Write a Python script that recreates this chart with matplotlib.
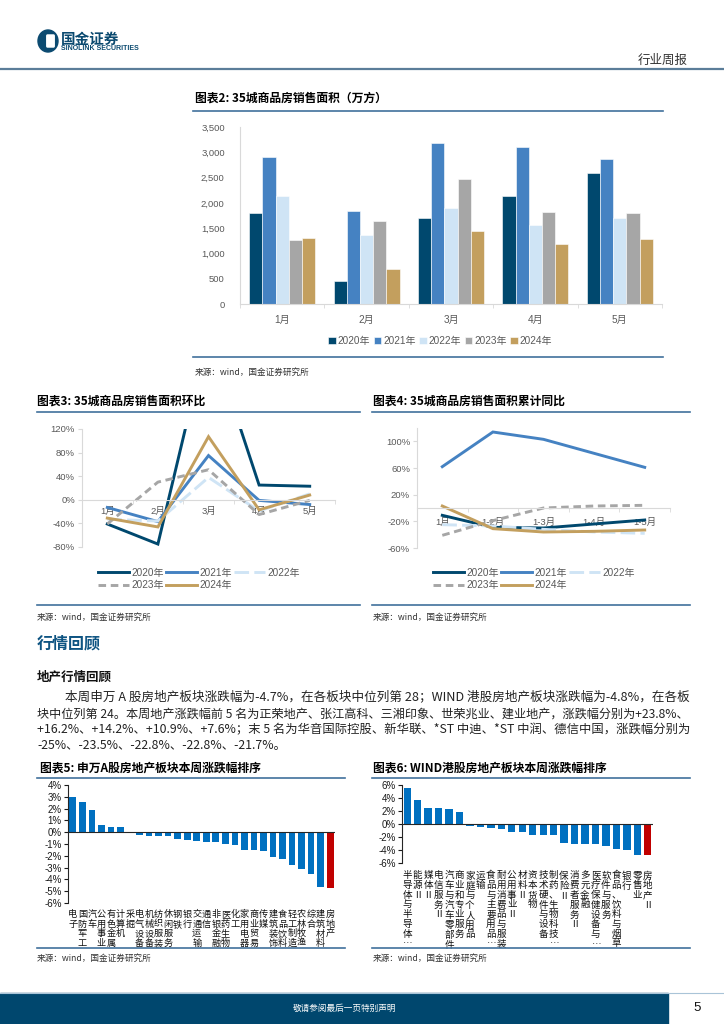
import matplotlib
matplotlib.use('Agg')
import matplotlib.pyplot as plt
from matplotlib.lines import Line2D
from matplotlib.patches import Rectangle, Ellipse, FancyBboxPatch
from matplotlib.ticker import FuncFormatter

plt.rcParams['font.family'] = ['Liberation Sans', 'Noto Sans CJK SC', 'DejaVu Sans']
plt.rcParams['axes.unicode_minus'] = False
CJK = ['Noto Sans CJK SC', 'DejaVu Sans']

# ---------------- data ----------------
months = ['1月', '2月', '3月', '4月', '5月']
years = ['2020年', '2021年', '2022年', '2023年', '2024年']
area_2020 = [1790, 450, 1710, 2130, 2600]
area_2021 = [2900, 1840, 3190, 3110, 2870]
area_2022 = [2130, 1370, 1890, 1570, 1710]
area_2023 = [1260, 1640, 2470, 1810, 1790]
area_2024 = [1300, 700, 1440, 1190, 1280]

mom_2020 = [-41, -75, 285, 25, 23]
mom_2021 = [-13, -37, 75, -1, -8]
mom_2022 = [-33, -36, 38, -19, 10]
mom_2023 = [-41, 30, 51, -25, -1]
mom_2024 = [-31, -46, 107, -17, 8]

cum_labels = ['1月', '1-2月', '1-3月', '1-4月', '1-5月']
yoy_2020 = [-11, -29, -30, -24, -18]
yoy_2021 = [62, 114, 103, 82, 61]
yoy_2022 = [-25, -27, -32, -36, -38]
yoy_2023 = [-41, -19, 0, 3, 4]
yoy_2024 = [3, -31, -36, -35, -33]

sw_names = ['电子', '国防军工', '汽车', '公用事业', '有色金属', '计算机', '采掘', '电气设备',
            '机械设备', '纺织服装', '休闲服务', '钢铁', '银行', '交通运输', '通信', '非银金融',
            '医药生物', '化工', '家用电器', '商业贸易', '传媒', '建筑装饰', '食品饮料', '轻工制造',
            '农林牧渔', '综合', '建筑材料', '房地产']
sw_values = [2.95, 2.55, 1.87, 0.6, 0.45, 0.45, 0.03, -0.2, -0.3, -0.3, -0.3, -0.57, -0.68,
             -0.77, -0.85, -0.85, -1.0, -1.08, -1.53, -1.53, -1.6, -2.1, -2.27, -2.8, -3.1,
             -3.58, -4.65, -4.7]

hk_names = ['半导体与半导体…', '能源Ⅱ', '媒体Ⅱ', '电信服务Ⅱ', '汽车与汽车零部件', '商业和专业服务',
            '家庭与个人用品', '运输', '食品与主要用品…', '耐用消费品与服装', '公用事业Ⅱ', '材料Ⅱ',
            '资本货物', '技术硬件与设备', '制药、生物科技…', '保险Ⅱ', '消费者服务Ⅱ', '多元金融',
            '医疗保健设备与…', '软件与服务', '食品、饮料与烟草', '银行', '零售业', '房地产Ⅱ']
hk_values = [5.6, 3.75, 2.45, 2.45, 2.3, 1.85, -0.25, -0.5, -0.65, -0.75, -1.2, -1.2, -1.7,
             -1.7, -1.75, -2.85, -3.0, -3.0, -3.15, -3.4, -3.85, -4.0, -4.8, -4.8]

paragraph = [
    '本周申万 A 股房地产板块涨跌幅为-4.7%，在各板块中位列第 28；WIND 港股房地产板块涨跌幅为-4.8%，在各板',
    '块中位列第 24。本周地产涨跌幅前 5 名为正荣地产、张江高科、三湘印象、世荣兆业、建业地产，涨跌幅分别为+23.8%、',
    '+16.2%、+14.2%、+10.9%、+7.6%；末 5 名为华音国际控股、新华联、*ST 中迪、*ST 中润、德信中国，涨跌幅分别为',
    '-25%、-23.5%、-22.8%、-22.8%、-21.7%。',
]

# ---------------- styles ----------------
C2020 = '#00486e'
C2021 = '#4582c2'
C2022 = '#cfe4f5'
C2023 = '#a6a6a6'
C2024 = '#c39f5e'
BAR_BLUE = '#0070c0'
BAR_RED = '#c00000'
RULE = '#41719c'
TICK_GRAY = '#595959'

W, H = 724, 1024
fig = plt.figure(figsize=(W / 100, H / 100), dpi=100)


def fx(x):
    return x / W


def fy(y):
    return 1 - y / H


def add_ax(x0, y0, x1, y1):
    return fig.add_axes([x0 / W, 1 - y1 / H, (x1 - x0) / W, (y1 - y0) / H])


def hline(x0, x1, y, color=RULE, lw=1.2):
    fig.add_artist(Line2D([fx(x0), fx(x1)], [fy(y), fy(y)], transform=fig.transFigure,
                          color=color, lw=lw))


def text(x, y, s, **kw):
    kw.setdefault('family', CJK)
    kw.setdefault('va', 'center')
    kw.setdefault('ha', 'left')
    return fig.text(fx(x), fy(y), s, **kw)


# ---------------- header ----------------
fig.add_artist(Ellipse((fx(48), fy(41)), 20 / W, 22 / H, transform=fig.transFigure,
                       color='#0b4a70'))
fig.add_artist(FancyBboxPatch((fx(47.5), fy(46)), 6 / W, 10 / H, transform=fig.transFigure,
                              boxstyle='round,pad=0.001', color='white'))
text(61, 39, '国金证券', fontsize=10.5, fontweight='bold', color='#0b4a70')
text(61, 49, 'SINOLINK SECURITIES', fontsize=5.0, fontweight='bold', color='#0b4a70',
     family=['Liberation Sans'])
text(638, 60, '行业周报', fontsize=9, color='#333333')
hline(0, 724, 68.5, color='#5b7d99', lw=1.6)

# ---------------- chart 2 ----------------
text(195, 98, '图表2: 35城商品房销售面积（万方）', fontsize=8.5, fontweight='bold')
hline(193, 663, 111)
ax2 = add_ax(240, 127, 662, 304)
area_series = [area_2020, area_2021, area_2022, area_2023, area_2024]
bar_colors = [C2020, C2021, C2022, C2023, C2024]
bw = 0.156
handles2 = []
for i, (vals, col) in enumerate(zip(area_series, bar_colors)):
    xs = [k + (i - 2) * bw for k in range(len(months))]
    b = ax2.bar(xs, vals, width=bw, color=col, edgecolor='white', linewidth=0.4, label=years[i])
    handles2.append(b)
ax2.set_xlim(-0.5, 4.5)
ax2.set_ylim(0, 3500)
ax2.set_yticks(range(0, 3501, 500))
ax2.yaxis.set_major_formatter(FuncFormatter(lambda v, p: f'{int(v):,}'))
ax2.set_xticks(range(5))
ax2.set_xticklabels(months)
ax2.set_xticks([k - 0.5 for k in range(6)], minor=True)
for s in ['top', 'right']:
    ax2.spines[s].set_visible(False)
for s in ['left', 'bottom']:
    ax2.spines[s].set_color('#d9d9d9')
ax2.tick_params(axis='y', length=0, labelsize=6.8, colors=TICK_GRAY, pad=11)
ax2.tick_params(axis='x', which='major', length=0, labelsize=7.2, colors=TICK_GRAY, pad=8)
ax2.tick_params(axis='x', which='minor', length=3, color='#d9d9d9')
fig.legend(handles2, years, loc='center', bbox_to_anchor=(fx(440), fy(341)), ncol=5,
           frameon=False, fontsize=7.2, handlelength=0.75, handleheight=0.75,
           handletextpad=0.2, columnspacing=0.35, labelcolor=TICK_GRAY)
hline(193, 663, 357)
text(195, 372, '来源：wind，国金证券研究所', fontsize=6.2, color='#333333')

# ---------------- charts 3 & 4 ----------------
styles = [
    dict(color=C2020, lw=2.1, ls='-'),
    dict(color=C2021, lw=2.1, ls='-'),
    dict(color=C2022, lw=2.1, ls=(0, (5, 1.8))),
    dict(color=C2023, lw=2.1, ls=(0, (2.6, 1.6))),
    dict(color=C2024, lw=2.1, ls='-'),
]


def line_chart(ax, cats, series, ylim, yticks, label_pad):
    hs = []
    for vals, st, yr in zip(series, styles, years):
        h, = ax.plot(range(len(cats)), vals, label=yr, solid_joinstyle='miter', **st)
        hs.append(h)
    ax.set_xlim(-0.5, len(cats) - 0.5)
    ax.set_ylim(*ylim)
    ax.set_yticks(yticks)
    ax.yaxis.set_major_formatter(FuncFormatter(lambda v, p: f'{int(v)}%'))
    ax.set_xticks(range(len(cats)))
    ax.set_xticklabels(cats)
    ax.set_xticks([k - 0.5 for k in range(len(cats) + 1)], minor=True)
    ax.spines['bottom'].set_position(('data', 0))
    for s in ['top', 'right']:
        ax.spines[s].set_visible(False)
    for s in ['left', 'bottom']:
        ax.spines[s].set_color('#d9d9d9')
    ax.tick_params(axis='y', length=3, color='#d9d9d9', labelsize=6.8, colors=TICK_GRAY, pad=2)
    ax.tick_params(axis='y', color='#d9d9d9')
    ax.tick_params(axis='x', which='major', length=0, labelsize=6.8, colors=TICK_GRAY,
                   pad=label_pad)
    ax.tick_params(axis='x', which='minor', length=3, color='#d9d9d9')
    return hs


text(37, 401, '图表3: 35城商品房销售面积环比', fontsize=8.5, fontweight='bold')
text(373, 401, '图表4: 35城商品房销售面积累计同比', fontsize=8.5, fontweight='bold')
hline(37, 360, 412)
hline(372, 690, 412)

ax3 = add_ax(82, 429, 335, 547)
h3 = line_chart(ax3, months, [mom_2020, mom_2021, mom_2022, mom_2023, mom_2024],
                (-80, 120), range(-80, 121, 40), 5)
ax4 = add_ax(417, 428, 670, 548)
h4 = line_chart(ax4, cum_labels, [yoy_2020, yoy_2021, yoy_2022, yoy_2023, yoy_2024],
                (-60, 120), [-60, -20, 20, 60, 100], 7)

order = [0, 3, 1, 4, 2]
for hs, cx in [(h3, 199), (h4, 534)]:
    fig.legend([hs[i] for i in order], [years[i] for i in order], loc='center',
               bbox_to_anchor=(fx(cx), fy(579)), ncol=3, frameon=False, fontsize=7.2,
               handlelength=3.1, handletextpad=0.3, columnspacing=0.15, labelspacing=0.25,
               labelcolor=TICK_GRAY)

hline(37, 360, 605)
hline(372, 690, 605)
text(37, 617, '来源：wind，国金证券研究所', fontsize=6.2, color='#333333')
text(373, 617, '来源：wind，国金证券研究所', fontsize=6.2, color='#333333')

# ---------------- text section ----------------
text(37, 643, '行情回顾', fontsize=11.5, fontweight='bold', color='#0e5482')
text(37, 677, '地产行情回顾', fontsize=9, fontweight='bold', color='#111111')
renderer = fig.canvas.get_renderer()
line_x = [65, 37, 37, 37]
line_y = [697, 714, 730, 746]
targets = [690 - 65, 690 - 37, 690 - 37, None]
last_fs = 8.8
for s, x, y, tw in zip(paragraph, line_x, line_y, targets):
    t = text(x, y, s, fontsize=last_fs, color='#222222')
    if tw is not None:
        w = t.get_window_extent(renderer).width
        fs = last_fs * tw / w
        fs = max(7.8, min(9.6, fs))
        t.set_fontsize(fs)
        last_fs = fs

# ---------------- charts 5 & 6 ----------------
text(40, 768, '图表5: 申万A股房地产板块本周涨跌幅排序', fontsize=8.5, fontweight='bold')
text(373, 768, '图表6: WIND港股房地产板块本周涨跌幅排序', fontsize=8.5, fontweight='bold')
hline(37, 345, 778)
hline(372, 690, 778)


def rank_chart(ax, names, values, ylim, yticks, pad, fs):
    n = len(names)
    cols = [BAR_BLUE] * (n - 1) + [BAR_RED]
    ax.bar(range(n), values, width=0.7, color=cols, zorder=2)
    ax.axhline(0, color='#262626', lw=0.8, zorder=3)
    ax.set_xlim(-0.5, n - 0.5)
    ax.set_ylim(*ylim)
    ax.set_yticks(yticks)
    ax.yaxis.set_major_formatter(FuncFormatter(lambda v, p: f'{int(round(v))}%'))
    ax.set_xticks(range(n))
    ax.set_xticklabels(['\n'.join(nm) for nm in names], family=CJK, fontsize=fs,
                       linespacing=1.1, va='top')
    for s in ['top', 'right', 'bottom']:
        ax.spines[s].set_visible(False)
    ax.spines['left'].set_color('#262626')
    ax.spines['left'].set_linewidth(0.8)
    ax.tick_params(axis='y', length=3, width=0.8, labelsize=7, colors='#1a1a1a', pad=1.5)
    ax.tick_params(axis='x', length=0, pad=pad, colors='#111111')


ax5 = add_ax(68, 785, 335, 903)
rank_chart(ax5, sw_names, sw_values, (-6, 4), range(-6, 5), 5, 6.6)
ax6 = add_ax(402, 785, 653, 863)
rank_chart(ax6, hk_names, hk_values, (-6, 6), range(-6, 7, 2), 6, 6.9)

hline(37, 345, 948)
hline(372, 690, 948)
text(37, 958, '来源：wind，国金证券研究所', fontsize=6.2, color='#333333')
text(373, 958, '来源：wind，国金证券研究所', fontsize=6.2, color='#333333')

# ---------------- footer ----------------
fig.add_artist(Rectangle((0, 0), fx(668), 31 / H, transform=fig.transFigure,
                         color='#00476e', zorder=0))
hline(0, 724, 993.3, color='#a9c4d8', lw=0.8)
text(345, 1008, '敬请参阅最后一页特别声明', fontsize=6.2, color='white', ha='center')
text(697, 1008, '5', fontsize=9.5, color='#111111', ha='center', family=['Liberation Sans'])

fig.savefig('out.png', dpi=100)
